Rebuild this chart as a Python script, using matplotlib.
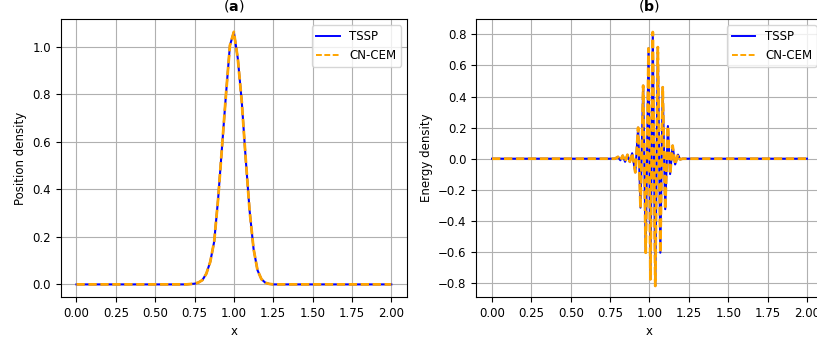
import numpy as np
import matplotlib
matplotlib.use("Agg")
import matplotlib.pyplot as plt

# (a) position density
x_pos = [0.0, 0.70, 0.75, 0.775, 0.80, 0.825, 0.85, 0.875, 0.90, 0.925, 0.95, 0.975,
         1.00, 1.025, 1.05, 1.075, 1.10, 1.125, 1.15, 1.175, 1.20, 1.225, 1.25, 1.30, 2.0]
y_pos = [0.0, 0.0, 0.003, 0.008, 0.018, 0.045, 0.095, 0.18, 0.36, 0.58, 0.80, 1.005,
         1.062, 0.95, 0.77, 0.53, 0.31, 0.15, 0.06, 0.022, 0.007, 0.002, 0.0, 0.0, 0.0]

# (b) energy density, extremes of the wave packet
x_en = [0.0, 0.78, 0.80, 0.815, 0.83, 0.845, 0.86, 0.875, 0.89, 0.91, 0.928, 0.943,
        0.960, 0.976, 0.994, 1.006, 1.021, 1.037, 1.053, 1.069, 1.084, 1.100, 1.117,
        1.131, 1.147, 1.163, 1.181, 1.195, 1.21, 2.0]
y_en = [0.0, 0.0, 0.012, -0.01, 0.02, -0.02, 0.025, -0.02, 0.035, -0.088, 0.20, -0.315,
        0.47, -0.605, 0.71, -0.776, 0.815, -0.819, 0.718, -0.605, 0.46, -0.325, 0.21,
        -0.099, 0.084, -0.037, 0.026, -0.005, 0.0, 0.0]

plt.rcParams['font.size'] = 8.5

fig = plt.figure(figsize=(8.17, 3.39), dpi=100)
ax1 = fig.add_axes([0.0743, 0.1239, 0.4239, 0.8192])
ax2 = fig.add_axes([0.583, 0.1239, 0.4239, 0.8192])

panels = [(ax1, x_pos, y_pos, 'Position density', 'a'),
          (ax2, x_en, y_en, 'Energy density', 'b')]

for ax, xs, ys, ylab, tag in panels:
    ax.plot(xs, ys, color='blue', lw=1.5, label='TSSP')
    ax.plot(xs, ys, color='orange', lw=2, ls='--', dashes=(3.0, 1.3), label='CN-CEM')
    ax.set_xlabel('x')
    ax.set_ylabel(ylab)
    ax.set_title(r'($\mathbf{' + tag + '}$)')
    ax.set_xticks(np.arange(0, 2.01, 0.25))
    ax.grid(True)
    leg = ax.legend(loc='upper right')
    for line in leg.get_lines():
        line.set_linewidth(1.4)

ax1.set_ylim(-0.053, 1.115)
ax2.set_ylim(-0.89, 0.897)

fig.savefig('out.png', dpi=100)
